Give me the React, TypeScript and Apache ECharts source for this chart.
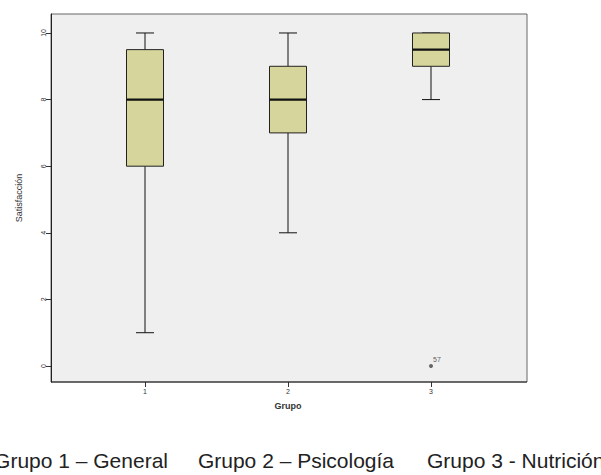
import React, { useEffect, useRef } from "react";
import * as echarts from "echarts";

const groups = ["1", "2", "3"];
// [min, q1, median, q3, max]
const boxStats = [
  [1, 6, 8, 9.5, 10],
  [4, 7, 8, 9, 10],
  [8, 9, 9.5, 10, 10],
];
const outliers = [[2, 0]];
const outlierLabels = ["57"];
const yTicks = [0, 2, 4, 6, 8, 10];
const captions = ["Grupo 1 – General", "Grupo 2 – Psicología", "Grupo 3 - Nutrición"];

export default function App() {
  const ref = useRef<HTMLDivElement>(null);
  useEffect(() => {
    const chart = echarts.init(ref.current!, null, { renderer: "svg" });
    const font = "'Liberation Sans', Arial, sans-serif";
    const option: any = {
      animation: false,
      backgroundColor: "#ffffff",
      grid: { left: 73.5, right: 98.5, top: 14, bottom: 93 },
      xAxis: {
        type: "category",
        data: groups,
        axisLine: { show: false, onZero: false },
        axisTick: { show: true, alignWithLabel: true, length: 5, lineStyle: { color: "#333" } },
        axisLabel: { fontSize: 7, color: "#333", margin: 6, fontFamily: font },
        splitLine: { show: false },
        name: "Grupo",
        nameLocation: "middle",
        nameGap: 19,
        nameTextStyle: { fontSize: 9, fontWeight: "bold", color: "#333", fontFamily: font },
      },
      yAxis: {
        type: "value",
        min: -0.48,
        max: 10.57,
        offset: 22.5,
        axisLine: { show: true, onZero: false, lineStyle: { color: "#222" } },
        axisTick: { show: true, length: 5, customValues: yTicks, lineStyle: { color: "#333" } },
        axisLabel: { fontSize: 7, color: "#333", rotate: 90, margin: 4, customValues: yTicks, fontFamily: font },
        splitLine: { show: false },
        name: "Satisfacción",
        nameLocation: "middle",
        nameRotate: 90,
        nameGap: 28,
        nameTextStyle: { fontSize: 9, color: "#333", fontFamily: font },
      },
      graphic: [
        {
          type: "rect",
          z: -10,
          shape: { x: 51, y: 14, width: 476, height: 368 },
          style: { fill: "#efefef", stroke: "#666", lineWidth: 1 },
        },
        {
          type: "line",
          z: 10,
          shape: { x1: 51, y1: 382, x2: 527, y2: 382 },
          style: { stroke: "#222", lineWidth: 1.2 },
        },
        ...captions.map((c, i) => ({
          type: "text",
          z: 10,
          x: [168, 296, 427][i],
          y: 460,
          style: {
            text: c,
            fontSize: 21,
            fontFamily: font,
            fill: "#222",
            textAlign: ["right", "center", "left"][i],
            textVerticalAlign: "middle",
          },
        })),
      ],
      series: [
        {
          type: "custom",
          data: boxStats.map((s, i) => [i, ...s]),
          encode: { x: 0, y: [1, 2, 3, 4, 5] },
          renderItem: (params: any, api: any) => {
            const i = api.value(0);
            const bw = 37;
            const cap = 18;
            const pMin = api.coord([i, api.value(1)]);
            const pQ1 = api.coord([i, api.value(2)]);
            const pMed = api.coord([i, api.value(3)]);
            const pQ3 = api.coord([i, api.value(4)]);
            const pMax = api.coord([i, api.value(5)]);
            const cx = pMin[0];
            const line = (x1: number, y1: number, x2: number, y2: number, w = 1) => ({
              type: "line",
              shape: { x1, y1, x2, y2 },
              style: { stroke: "#111", lineWidth: w },
            });
            return {
              type: "group",
              children: [
                line(cx, pMax[1], cx, pQ3[1]),
                line(cx, pQ1[1], cx, pMin[1]),
                line(cx - cap / 2, pMax[1], cx + cap / 2, pMax[1]),
                line(cx - cap / 2, pMin[1], cx + cap / 2, pMin[1]),
                {
                  type: "rect",
                  shape: { x: cx - bw / 2, y: pQ3[1], width: bw, height: pQ1[1] - pQ3[1] },
                  style: { fill: "#d6d69c", stroke: "#222", lineWidth: 1 },
                },
                line(cx - bw / 2, pMed[1], cx + bw / 2, pMed[1], 2.2),
              ],
            };
          },
        },
        {
          type: "scatter",
          data: outliers,
          symbol: "circle",
          symbolSize: 4,
          itemStyle: { color: "#444" },
          label: {
            show: true,
            position: [4, -8],
            fontSize: 7,
            color: "#333",
            fontFamily: font,
            formatter: (p: any) => outlierLabels[p.dataIndex],
          },
        },
      ],
    };
    chart.setOption(option);
    return () => chart.dispose();
  }, []);
  return (
    <div
      ref={ref}
      style={{ position: "fixed", left: 0, top: 0, width: 601, height: 475 }}
    />
  );
}
